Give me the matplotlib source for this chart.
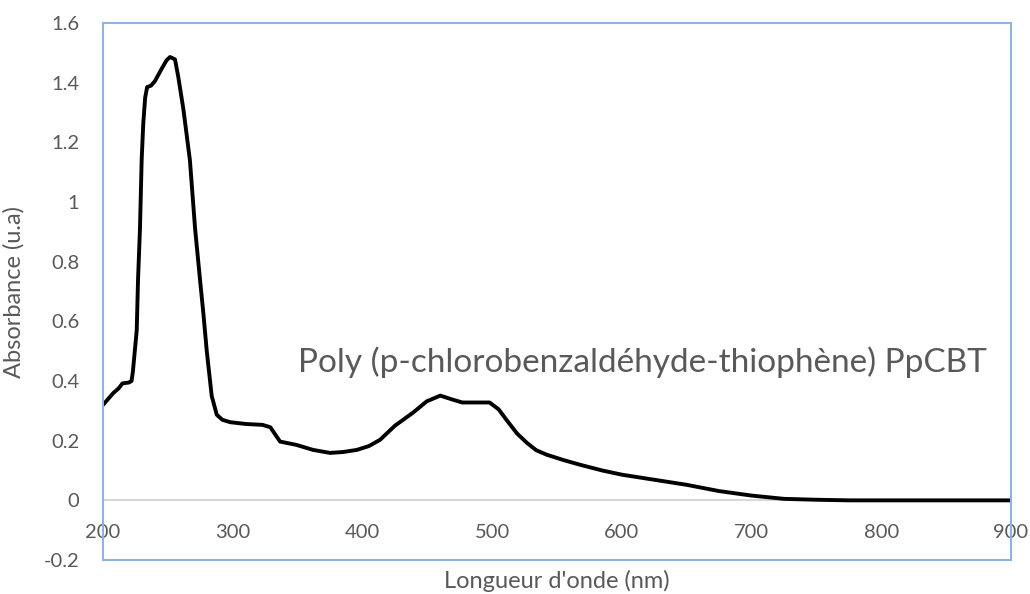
import matplotlib.pyplot as plt
from matplotlib.patches import Rectangle

# wavelength (nm) and absorbance
wavelength = [200, 204, 208, 212, 215, 220, 222, 223, 224.5, 226, 227, 228.5,
              229.8, 231, 232.5, 234, 237, 240, 245, 249, 251.7, 255.5, 258,
              262, 267, 271, 275, 277.3, 280, 283.8, 287.7, 292, 298, 310,
              323, 329, 336.5, 349, 362, 375, 385, 395.6, 405, 413.6, 425,
              439, 449.6, 460, 470, 477, 488, 498, 505, 511, 519, 526.7, 534,
              542, 555, 568, 585, 600, 625, 650, 675, 700, 725, 750, 775,
              800, 850, 900]
absorbance = [0.32, 0.34, 0.36, 0.375, 0.392, 0.395, 0.40, 0.43, 0.50, 0.57,
              0.74, 0.91, 1.14, 1.26, 1.35, 1.385, 1.39, 1.405, 1.445, 1.475,
              1.486, 1.478, 1.42, 1.31, 1.14, 0.91, 0.73, 0.63, 0.50, 0.35,
              0.287, 0.27, 0.262, 0.256, 0.253, 0.245, 0.197, 0.186, 0.169,
              0.159, 0.162, 0.169, 0.182, 0.203, 0.25, 0.294, 0.332, 0.351,
              0.337, 0.328, 0.328, 0.328, 0.305, 0.27, 0.225, 0.193, 0.168,
              0.153, 0.135, 0.119, 0.10, 0.086, 0.069, 0.052, 0.031, 0.016,
              0.005, 0.002, 0.0, 0.0, 0.0, 0.0]

x_ticks = [200, 300, 400, 500, 600, 700, 800, 900]
y_ticks = [-0.2, 0, 0.2, 0.4, 0.6, 0.8, 1, 1.2, 1.4, 1.6]
y_labels = ["-0.2", "0", "0.2", "0.4", "0.6", "0.8", "1", "1.2", "1.4", "1.6"]

plt.rcParams['font.family'] = ['Lato', 'DejaVu Sans']
grey = '#595959'

fig = plt.figure(figsize=(10.3, 5.94), dpi=100)
ax = fig.add_axes([0.1, 0.0572, 0.8816, 0.9041])

ax.plot(wavelength, absorbance, color='black', lw=2.8, solid_joinstyle='round')

ax.set_xlim(200, 900)
ax.set_ylim(-0.2, 1.6)

# x axis drawn at y = 0 like the original
for s in ['top', 'right', 'left']:
    ax.spines[s].set_visible(False)
ax.spines['bottom'].set_position(('data', 0))
ax.spines['bottom'].set_color('#d0d0d0')
ax.spines['bottom'].set_linewidth(1.2)
ax.spines['bottom'].set_zorder(0)

ax.set_xticks(x_ticks)
ax.set_yticks(y_ticks)
ax.set_yticklabels(y_labels)
ax.tick_params(axis='x', length=0, pad=17, labelsize=14.5, labelcolor=grey)
ax.tick_params(axis='y', length=0, pad=17, labelsize=14.5, labelcolor=grey)

# plot area border
ax.add_patch(Rectangle((0, 0), 1, 1, transform=ax.transAxes, fill=False,
                       edgecolor='#8fb4dc', lw=1.5, clip_on=False, zorder=5))

ax.set_xlabel("Longueur d'onde (nm)", fontsize=17, color=grey)
ax.xaxis.set_label_coords(0.5, -0.019)
ax.set_ylabel("Absorbance (u.a)", fontsize=17, color=grey)
ax.yaxis.set_label_coords(-0.086, 0.5)

ax.text(350.3, 0.43, "Poly (p-chlorobenzaldéhyde-thiophène) PpCBT",
        fontsize=24, color=grey, ha='left', va='baseline')

fig.savefig('out.png', dpi=100)
